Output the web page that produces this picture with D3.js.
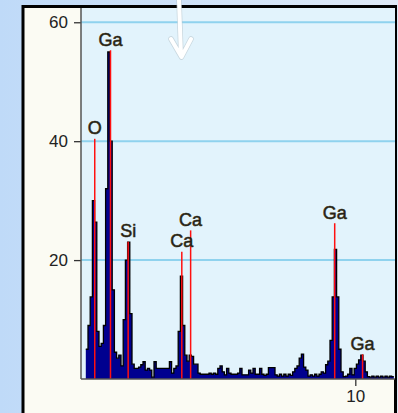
<!DOCTYPE html>
<html><head><meta charset="utf-8">
<script src="https://cdn.jsdelivr.net/npm/d3@7"></script>
<style>html,body{margin:0;padding:0;overflow:hidden;background:#d6e6f8}</style>
</head><body>
<svg id="c" width="398" height="413"></svg>
<script>
// ---- data ----
const channelStart = 0.2;      // keV, first channel
const channelWidth = 0.08;     // keV per channel
const counts = [
  5, 9, 13.8, 30, 26.4, 8, 5.5, 6, 9, 32,
  55, 40, 15, 4.5, 3.5, 4, 2.2, 10, 20, 23,
  11, 2.5, 1.8, 1.8, 2, 2.4, 2.9, 1.5, 1.8, 1.5,
  0.3, 2.9, 1.8, 1.8, 1.8, 1.8, 1.8, 1.8, 2.9, 1,
  1.8, 2.2, 8, 17.3, 9, 4, 3, 4, 3.8, 2.5,
  2.5, 1, 0.8, 0.8, 0.8, 0.8, 1, 0.8, 1, 0.8,
  1.8, 2.2, 1.2, 0.7, 1.8, 1, 0.8, 0.8, 0.8, 1,
  1.8, 0.7, 0.7, 0.7, 1.5, 1, 1.8, 0.8, 0.8, 1.8,
  0.8, 0.6, 0.8, 1.9, 1.9, 1.9, 0.7, 0.5, 0.8, 0.5,
  0.8, 0.5, 0.8, 0.6, 1.2, 1.8, 2.2, 3.5, 4.2, 2,
  1.5, 0.5, 0.7, 0.5, 0.8, 0.5, 0.8, 1.2, 1, 2.4,
  3, 6.5, 13.8, 21.8, 13.8, 5, 1.2, 0.4, 0.5, 0.8,
  1.8, 0.7, 1.8, 2.5, 3.2, 4, 3, 1.2, 0.4, 0.3,
  0.5, 0.3, 0.5, 0.3, 0.5, 0.3, 0.5, 0.3, 0.5, 0.4
];
const markerLabels   = ["O", "Ga", "Si", "Ca", "Ca", "Ga", "Ga"];
const markerEnergies = [0.525, 1.098, 1.740, 3.691, 4.012, 9.251, 10.264];
const markerHeights  = [40.4, 55.3, 23.1, 21.4, 25.0, 26.2, 4.15];
const yTicks = [20, 40, 60];
const xTicks = [10];
const xMax = 11.45, yMax = 62.4;

// ---- drawing ----
const svg = d3.select("#c");
const defs = svg.append("defs");
const g1 = defs.append("linearGradient").attr("id","bg").attr("x1","0").attr("x2","1").attr("y1","0").attr("y2","0");
g1.append("stop").attr("offset","0").attr("stop-color","#bfdaf8");
g1.append("stop").attr("offset","1").attr("stop-color","#dfeaf7");
svg.append("rect").attr("width",398).attr("height",413).attr("fill","url(#bg)");

const plotL = 81, plotR = 395, plotT = 8, plotB = 379;
const x = d3.scaleLinear().domain([0, xMax]).range([80.3, 80.3 + 27.5 * xMax]);
const y = d3.scaleLinear().domain([0, yMax]).range([plotB, plotT]);

// frame
svg.append("rect").attr("x",23).attr("y",6.5).attr("width",372.5).attr("height",430)
  .attr("fill","#fbfbf3").attr("stroke","#000").attr("stroke-width",3);
// plot bg
svg.append("rect").attr("x",plotL).attr("y",plotT).attr("width",plotR-plotL).attr("height",plotB-plotT)
  .attr("fill","#e2f3fc");

// grid
svg.append("g").selectAll("line").data(yTicks).join("line")
  .attr("x1",plotL).attr("x2",plotR).attr("y1",d=>y(d)).attr("y2",d=>y(d))
  .attr("stroke","#8fd2ee").attr("stroke-width",2);

// spectrum
const pts = counts.map((c,i)=>({e: channelStart + i*channelWidth, c}));
pts.push({e: channelStart + counts.length*channelWidth, c: counts[counts.length-1]});
const area = d3.area().curve(d3.curveStepAfter).x(d=>x(d.e)).y0(y(0)).y1(d=>y(d.c));
const line = d3.line().curve(d3.curveStepAfter).x(d=>x(d.e)).y(d=>y(d.c));
svg.append("path").datum(pts).attr("d",area).attr("fill","#00008f");
svg.append("path").datum(pts).attr("d",line).attr("fill","none").attr("stroke","#000").attr("stroke-width",1.3);

// marker lines
const markers = markerLabels.map((l,i)=>({l, e: markerEnergies[i], h: markerHeights[i]}));
svg.append("g").selectAll("line").data(markers).join("line")
  .attr("x1",d=>x(d.e)).attr("x2",d=>x(d.e)).attr("y1",y(0)).attr("y2",d=>y(d.h))
  .attr("stroke","#ff1010").attr("stroke-width",1.5);
svg.append("g").selectAll("text").data(markers).join("text")
  .attr("x",d=>x(d.e)).attr("y",d=>y(d.h)-4.5)
  .attr("text-anchor","middle").attr("font-family","Liberation Sans, Arial, sans-serif")
  .attr("font-size",18).attr("fill","#1c1c1c").attr("stroke","#3a3010").attr("stroke-width",0.55)
  .text(d=>d.l);

// axes
const ya = svg.append("g").attr("transform",`translate(${plotL},0)`)
  .call(d3.axisLeft(y).tickValues(yTicks).tickSize(7).tickSizeOuter(0).tickPadding(6));
const xa = svg.append("g").attr("transform",`translate(0,${plotB})`)
  .call(d3.axisBottom(x).tickValues(xTicks).tickSize(7).tickSizeOuter(0).tickPadding(4));
[ya, xa].forEach(a=>{
  a.select(".domain").remove();
  a.selectAll("line").attr("stroke","#333").attr("stroke-width",1.3);
  a.selectAll("text").attr("font-family","Liberation Sans, Arial, sans-serif").attr("font-size",17).attr("fill","#222");
});
svg.append("line").attr("x1",plotL).attr("x2",plotL).attr("y1",plotT).attr("y2",plotB)
  .attr("stroke","#555").attr("stroke-width",1.5);
svg.append("line").attr("x1",plotL).attr("x2",plotR).attr("y1",plotB).attr("y2",plotB)
  .attr("stroke","#555").attr("stroke-width",1.5);

// arrow
const arrow = svg.append("g");
const ap = "M179,0 L181,56 M171,39 L181.5,57 L191,39";
arrow.append("path").attr("d",ap).attr("fill","none").attr("stroke","#b8c4cc").attr("stroke-width",5.5)
  .attr("stroke-linecap","round").attr("stroke-linejoin","round").attr("opacity",0.6);
arrow.append("path").attr("d",ap).attr("fill","none").attr("stroke","#ffffff").attr("stroke-width",4)
  .attr("stroke-linecap","round").attr("stroke-linejoin","round");
</script>
</body></html>
